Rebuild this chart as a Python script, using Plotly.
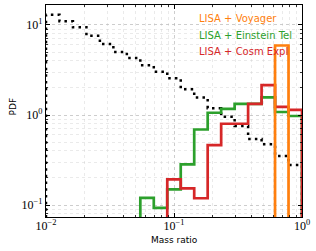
import numpy as np
import plotly.graph_objects as go

# 19 logarithmic bins of the mass ratio between 1e-2 and 1
bin_edges = np.logspace(-2, 0, 20)

# PDF values (density)
all_pdf = [13.0, 11.0, 9.43, 7.6, 6.15, 5.01, 4.3, 3.56, 3.03, 2.56,
           1.93, 1.56, 1.19, 0.958, 0.755, 0.541, 0.472, 0.35, 0.278]
all_start = 0

voyager_pdf = [5.92]
voyager_start = 17

einstein_pdf = [0.120, 0.093, 0.149, 0.283, 0.69, 1.06, 1.17, 1.33, 1.33,
                1.57, 1.08, 0.975]
einstein_start = 7

cosm_pdf = [0.193, 0.153, 0.119, 0.464, 0.80, 0.80, 1.33, 2.15, 1.23, 1.14]
cosm_start = 9

labels = ["LISA + Voyager", "LISA + Einstein Tel", "LISA + Cosm Expl"]
x_title = "Mass ratio"
y_title = "PDF"
x_tickvals = [0.01, 0.1, 1]
x_ticktext = ["10<sup>−2</sup>", "10<sup>−1</sup>", "10<sup>0</sup>"]
y_tickvals = [0.1, 1, 10]
y_ticktext = ["10<sup>−1</sup>", "10<sup>0</sup>", "10<sup>1</sup>"]

ORANGE = "#ff7f0e"
GREEN = "#2ca02c"
RED = "#d62728"
FLOOR = 1e-3


def step_xy(vals, start):
    xs = [bin_edges[start]]
    ys = [FLOOR]
    for i, v in enumerate(vals):
        k = start + i
        xs += [bin_edges[k], bin_edges[k + 1]]
        ys += [v, v]
    xs.append(bin_edges[start + len(vals)])
    ys.append(FLOOR)
    return xs, ys


fig = go.Figure()

x, y = step_xy(all_pdf, all_start)
fig.add_trace(go.Scatter(x=x, y=y, mode="lines",
                         line=dict(color="black", width=2.5, dash="2.5px,4.2px"),
                         showlegend=False, hoverinfo="skip"))
for vals, start, col in [(einstein_pdf, einstein_start, GREEN),
                         (cosm_pdf, cosm_start, RED),
                         (voyager_pdf, voyager_start, ORANGE)]:
    x, y = step_xy(vals, start)
    fig.add_trace(go.Scatter(x=x, y=y, mode="lines",
                             line=dict(color=col, width=2.7),
                             showlegend=False, hoverinfo="skip"))

for i, (txt, col) in enumerate(zip(labels, [ORANGE, GREEN, RED])):
    fig.add_annotation(text=txt, xref="paper", yref="paper",
                       x=0.592, y=0.935 - i * 0.077, xanchor="left", yanchor="middle",
                       showarrow=False, borderpad=0,
                       font=dict(family="DejaVu Sans", size=10, color=col))

# axis titles
fig.add_annotation(text=x_title, xref="paper", yref="paper",
                   x=0.5, y=-0.108, xanchor="center", yanchor="middle",
                   showarrow=False, borderpad=0,
                   font=dict(family="DejaVu Sans", size=9, color="black"))
fig.add_annotation(text=y_title, xref="paper", yref="paper",
                   x=-0.13, y=0.52, xanchor="center", yanchor="middle",
                   textangle=-90, showarrow=False, borderpad=0,
                   font=dict(family="DejaVu Sans", size=9, color="black"))

grid_major = "rgba(185,185,185,0.75)"
grid_minor = "rgba(200,200,200,0.65)"

common = dict(
    showline=True, linecolor="black", linewidth=1.2, mirror="ticks",
    ticks="inside", ticklen=4, tickwidth=1, tickcolor="black",
    showgrid=True, gridcolor=grid_major, gridwidth=0.8, griddash="dot",
    zeroline=False,
    tickfont=dict(family="Liberation Serif", size=12, color="black"),
    minor=dict(ticks="inside", ticklen=2, tickwidth=0.8, tickcolor="black",
               dtick="D1", showgrid=True, gridcolor=grid_minor,
               gridwidth=0.6, griddash="dot"),
)

fig.update_xaxes(type="log", range=[-2, 0], tickvals=x_tickvals,
                 ticktext=x_ticktext, ticklabelstandoff=-3, **common)
fig.update_yaxes(type="log", range=[-1.133, 1.222], tickvals=y_tickvals,
                 ticktext=y_ticktext, **common)

fig.update_layout(width=316, height=251,
                  margin=dict(l=46, r=14, t=5, b=34),
                  plot_bgcolor="white", paper_bgcolor="white",
                  hovermode=False, dragmode=False)

fig.write_html("out.html",
               config={"displayModeBar": False, "staticPlot": True},
               post_script="document.body.style.margin='0';"
                           "document.body.style.overflow='hidden';")
